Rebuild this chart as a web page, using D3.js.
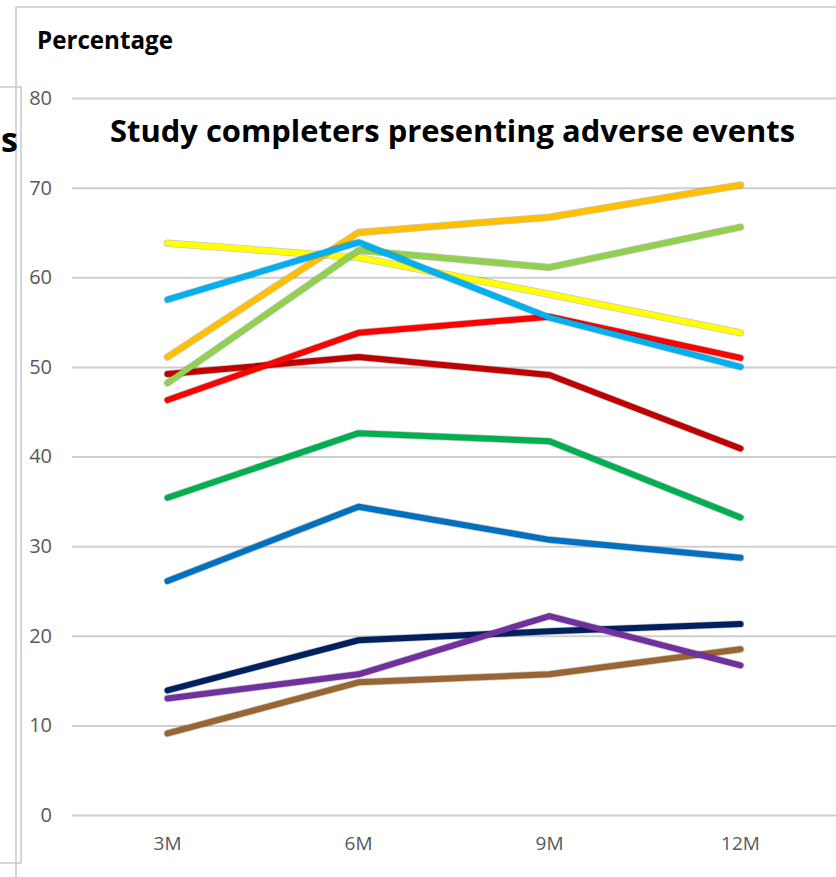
<!DOCTYPE html>
<html>
<head>
<meta charset="utf-8">
<script src="https://cdn.jsdelivr.net/npm/d3@7"></script>
<style>
  html, body { margin: 0; padding: 0; background: #fff; }
  svg { display: block; }
</style>
</head>
<body>
<div id="chart"></div>
<script>
// Follow-up visits
const categories = ["3M", "6M", "9M", "12M"];
// Y axis tick values
const yTicks = [0, 10, 20, 30, 40, 50, 60, 70, 80];

// Percentage of study completers per group at each visit
const seriesNames = ["S1", "S2", "S3", "S4", "S5", "S6", "S7", "S8", "S9", "S10", "S11"];
const navyValues      = [13.9, 19.5, 20.5, 21.3];
const brownValues     = [9.1, 14.8, 15.7, 18.5];
const purpleValues    = [13.0, 15.7, 22.2, 16.7];
const blueValues      = [26.1, 34.4, 30.7, 28.7];
const greenValues     = [35.4, 42.6, 41.7, 33.2];
const darkRedValues   = [49.2, 51.1, 49.1, 40.9];
const redValues       = [46.3, 53.8, 55.6, 51.0];
const yellowValues    = [63.8, 62.2, 58.1, 53.8];
const orangeValues    = [51.1, 65.0, 66.7, 70.3];
const lightGreenValues= [48.2, 63.0, 61.1, 65.6];
const lightBlueValues = [57.5, 63.9, 55.5, 50.0];

const seriesValues = [navyValues, brownValues, purpleValues, blueValues, greenValues,
  darkRedValues, redValues, yellowValues, orangeValues, lightGreenValues, lightBlueValues];
const seriesColors = ["#002060", "#996633", "#7030A0", "#0070C0", "#00B050",
  "#C00000", "#FF0000", "#FFFF00", "#FFC000", "#92D050", "#00B0F0"];

const W = 836, H = 877;
const plot = { left: 72, right: 836, top: 98, bottom: 815 };

const svg = d3.select("#chart").append("svg")
  .attr("width", W).attr("height", H);

const x = d3.scaleBand().domain(categories).range([plot.left, plot.right]);
const y = d3.scaleLinear().domain([0, 80]).range([plot.bottom, plot.top]);

const labelFont = "'Open Sans', 'DejaVu Sans', sans-serif";
const boldFont = "'Open Sans', 'DejaVu Sans', sans-serif";

// Chart frames
const frame = svg.append("g").attr("fill", "none").attr("stroke", "#c9c9c9").attr("stroke-width", 1.5);
frame.append("path").attr("d", `M16,${H} L16,7 L${W},7`);
frame.append("path").attr("d", `M0,87 L21,87 L21,863 L0,863`);

// Last letter of the neighbouring chart's title
svg.append("text")
  .attr("x", 1).attr("y", 152)
  .attr("text-anchor", "start")
  .attr("font-family", boldFont).attr("font-weight", 700)
  .attr("font-size", 34).attr("fill", "#000")
  .text("s");

// Gridlines and y labels via axis
const yAxis = d3.axisLeft(y).tickValues(yTicks)
  .tickSize(-(plot.right - plot.left)).tickPadding(20);
const gy = svg.append("g").attr("transform", `translate(${plot.left},0)`).call(yAxis);
gy.select(".domain").remove();
gy.selectAll(".tick line").attr("stroke", "#cfcfcf").attr("stroke-width", 2);
gy.selectAll(".tick text")
  .attr("fill", "#595959").attr("font-family", labelFont).attr("font-size", 20);

// X labels
const xAxis = d3.axisBottom(x).tickSize(0).tickPadding(22);
const gx = svg.append("g").attr("transform", `translate(0,${plot.bottom})`).call(xAxis);
gx.select(".domain").remove();
gx.selectAll(".tick text")
  .attr("fill", "#595959").attr("font-family", labelFont).attr("font-size", 19);

// Series lines
const line = d3.line()
  .x((d, i) => x(categories[i]) + x.bandwidth() / 2)
  .y(d => y(d));

const lines = svg.append("g");
seriesValues.forEach((vals, k) => {
  const g = lines.append("g").attr("class", "series").attr("data-name", seriesNames[k]);
  g.append("path").attr("d", line(vals))
    .attr("fill", "none").attr("stroke", "rgba(0,0,0,0.22)")
    .attr("stroke-width", 7.5).attr("stroke-linecap", "round").attr("stroke-linejoin", "round");
  g.append("path").attr("d", line(vals))
    .attr("fill", "none").attr("stroke", seriesColors[k])
    .attr("stroke-width", 6).attr("stroke-linecap", "round").attr("stroke-linejoin", "round");
});

// Fit a text element to a given width by adjusting its font size
function fitWidth(sel, target) {
  const fs = parseFloat(sel.attr("font-size"));
  const w = sel.node().getComputedTextLength();
  if (w > 0) sel.attr("font-size", (fs * target / w).toFixed(2));
}

const yTitle = svg.append("text")
  .attr("x", 37).attr("y", 49)
  .attr("font-family", boldFont).attr("font-weight", 700)
  .attr("font-size", 24).attr("fill", "#000")
  .text("Percentage");
fitWidth(yTitle, 136);

const title = svg.append("text")
  .attr("x", 110).attr("y", 142)
  .attr("font-family", boldFont).attr("font-weight", 700)
  .attr("font-size", 30).attr("fill", "#000")
  .text("Study completers presenting adverse events");
fitWidth(title, 685);
</script>
</body>
</html>
